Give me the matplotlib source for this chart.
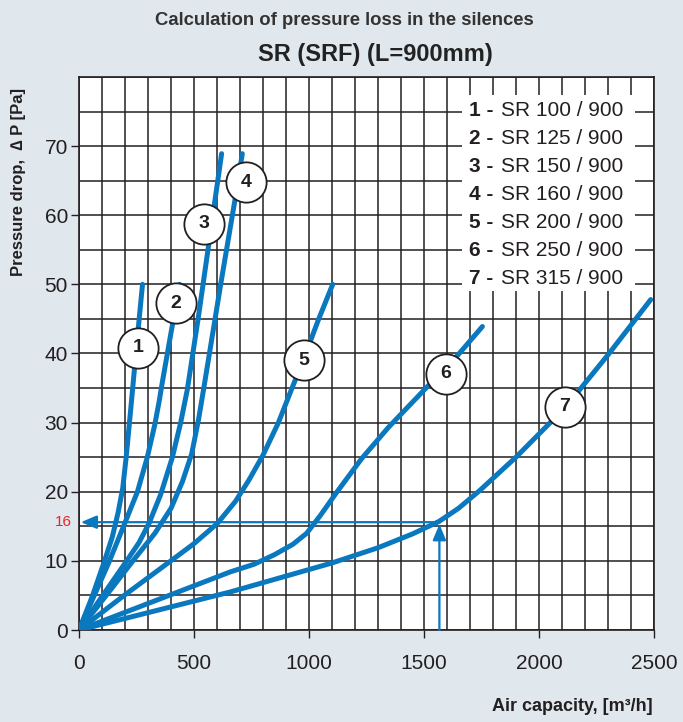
import numpy as np
import matplotlib.pyplot as plt
from matplotlib.patches import Rectangle

plt.rcParams['font.family'] = ['Liberation Sans', 'DejaVu Sans']

# data: air capacity [m3/h] vs pressure drop [Pa]
q1 = [0, 58, 109, 145, 170, 190, 205, 225, 250, 276]
dp1 = [0, 4.9, 9.8, 13.5, 17, 20.5, 25, 32, 41, 50]

q2 = [0, 65, 130, 196, 254, 297, 330, 348, 362, 400, 438]
dp2 = [0, 4.9, 9.8, 15.2, 20, 25, 29.8, 33, 35.8, 43, 50]

q3 = [0, 101, 203, 260, 304, 355, 406, 442, 471, 520, 565, 587, 620]
dp3 = [0, 4.9, 9.8, 12.6, 15.4, 19.6, 25, 30, 34.8, 45.5, 56, 61.2, 68.9]

q4 = [0, 116, 232, 330, 400, 450, 490, 520, 545, 616, 681, 710]
dp4 = [0, 4.9, 9.9, 14.0, 17.6, 21.5, 25.5, 30.5, 35.5, 50, 62.8, 68.9]

q5 = [0, 188, 391, 500, 601, 680, 739, 800, 867, 925, 978, 1040, 1103]
dp5 = [0, 4.8, 9.8, 12.5, 15.4, 18.6, 21.7, 25.3, 30, 34.9, 39.3, 44.8, 50]

q6 = [0, 657, 760, 850, 930, 990, 1050, 1120, 1229, 1345, 1500, 1648, 1754]
dp6 = [0, 8.4, 9.5, 10.9, 12.4, 14.0, 16.6, 19.9, 24.8, 29.3, 34.7, 39.8, 43.9]

q7 = [0, 657, 900, 1100, 1300, 1450, 1565, 1650, 1743, 1900, 2043, 2117, 2300, 2486]
dp7 = [0, 5.5, 7.8, 9.7, 11.9, 13.9, 15.7, 17.6, 20.2, 25.0, 29.8, 32.3, 39.8, 47.8]

# numbered circle positions
label_q = [256, 422, 543, 725, 978, 1596, 2113]
label_dp = [40.8, 47.3, 58.8, 64.8, 39.0, 37.1, 32.3]

sizes = ["100", "125", "150", "160", "200", "250", "315"]

# example reading: 1567 m3/h -> 16 Pa
ex_q = 1567
ex_dp = 15.6
ex_label = "16"

blue = '#0a78bf'
bg = '#e0e8ee'

fig = plt.figure(figsize=(6.83, 7.22), dpi=100, facecolor=bg)
ax = fig.add_axes([0.1157, 0.1274, 0.8418, 0.766])
ax.set_facecolor('white')

ax.set_xlim(0, 2500)
ax.set_ylim(0, 80)
ax.set_xticks(np.arange(0, 2501, 500))
ax.set_xticks(np.arange(0, 2501, 100), minor=True)
ax.set_yticks(np.arange(0, 71, 10))
ax.set_yticks(np.arange(0, 81, 5), minor=True)
ax.set_axisbelow(True)
ax.grid(which='both', color='#231f20', linewidth=1.1)
ax.tick_params(which='major', length=6, width=1.0, color='#231f20',
               labelsize=15, labelcolor='#231f20')
ax.tick_params(axis='x', which='major', pad=11)
ax.tick_params(axis='y', which='major', pad=2)
ax.tick_params(which='minor', length=0)
for s in ax.spines.values():
    s.set_color('#231f20')
    s.set_linewidth(1.2)

# white box behind the legend list
ax.add_patch(Rectangle((1665, 49.0), 752, 28.4, facecolor='white',
                       edgecolor='none', zorder=1))

curves = [(q1, dp1), (q2, dp2), (q3, dp3), (q4, dp4),
          (q5, dp5), (q6, dp6), (q7, dp7)]
for q, dp in curves:
    ax.plot(q, dp, color=blue, lw=3.6, solid_capstyle='round',
            solid_joinstyle='round', zorder=3)

# example arrows
ax.annotate('', xy=(8, ex_dp), xytext=(ex_q, ex_dp),
            arrowprops=dict(arrowstyle='-|>,head_length=0.95,head_width=0.4',
                            color=blue, lw=1.6, shrinkA=0, shrinkB=0,
                            mutation_scale=10), zorder=3)
ax.annotate('', xy=(ex_q, ex_dp - 0.3), xytext=(ex_q, 0),
            arrowprops=dict(arrowstyle='-|>,head_length=0.95,head_width=0.4',
                            color=blue, lw=1.6, shrinkA=0, shrinkB=0,
                            mutation_scale=10), zorder=3)
ax.text(-0.012, ex_dp, ex_label, color='#e8232b', fontsize=11,
        ha='right', va='center', transform=ax.get_yaxis_transform())

# numbered circles
for i, (x, y) in enumerate(zip(label_q, label_dp)):
    ax.plot(x, y, 'o', ms=29, mfc='white', mec='#231f20', mew=1.3, zorder=4)
    ax.text(x, y, str(i + 1), fontsize=14, fontweight='bold',
            ha='center', va='center', color='#231f20', zorder=5)

# legend list
for i, s in enumerate(sizes):
    y = 75.2 - i * 4.05
    ax.text(1696, y, f"{i + 1} -", fontsize=15, fontweight='bold',
            ha='left', va='center', color='#231f20', zorder=5)
    ax.text(1835, y, f"SR {s} / 900", fontsize=15,
            ha='left', va='center', color='#231f20', zorder=5)

fig.text(0.504, 0.972, "Calculation of pressure loss in the silences",
         fontsize=13.3, fontweight='bold', color='#333333',
         ha='center', va='center')
fig.text(0.549, 0.924, "SR (SRF) (L=900mm)", fontsize=17, fontweight='bold',
         color='#222222', ha='center', va='center')
fig.text(0.027, 0.748, "Pressure drop,  ∆ P [Pa]", fontsize=12,
         fontweight='bold', color='#231f20', rotation=90,
         ha='center', va='center')
fig.text(0.955, 0.022, "Air capacity, [m³/h]", fontsize=13,
         fontweight='bold', color='#231f20', ha='right', va='center')

fig.savefig('out.png', dpi=100, facecolor=bg)
